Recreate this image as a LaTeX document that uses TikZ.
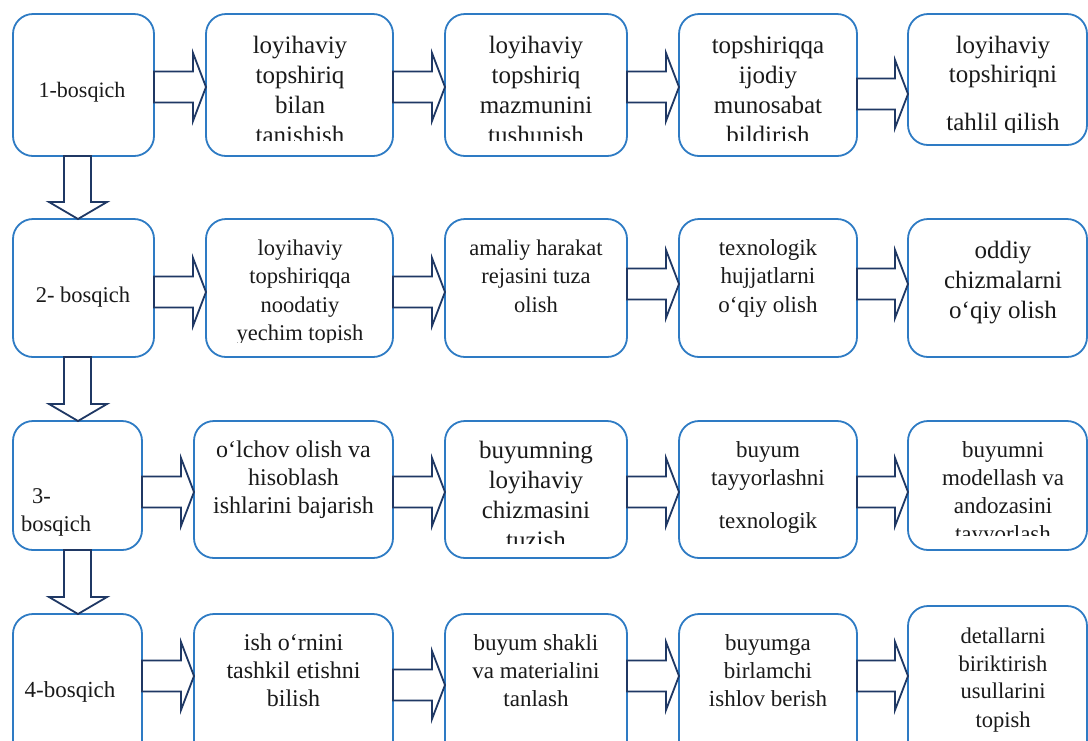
\documentclass[tikz,border=0pt]{standalone}
\usepackage{fontspec}
\setmainfont{Liberation Serif}
\usetikzlibrary{calc}
\definecolor{boxblue}{HTML}{2E7BC4}
\definecolor{arrnavy}{HTML}{1F3864}
\definecolor{txtgray}{HTML}{1A1A1A}
\tikzset{
  stage/.style={draw=boxblue, line width=1.8pt, rounded corners=20pt, fill=white, inner sep=0pt, outer sep=0pt, anchor=north west},
  blk/.style={draw=arrnavy, line width=1.8pt, fill=white, line join=miter},
  txt/.style={inner sep=0pt, text=txtgray, anchor=base},
}
\newcommand\bx[5]{\node[stage, minimum width={(#4-#2)*1pt}, minimum height={(#5-#3)*1pt}] (#1) at (#2,-#3) {};}
\newcommand\tl[5]{\node[txt, font=\fontsize{#4}{#4}\selectfont] (#1) at (#2,-#3) {#5};}
\newcommand\harr[3]{%
  \draw[blk] (#1.east |- 0,{-#3+15.5})
    -- ($(#2.west |- 0,{-#3+15.5})+(-13,0)$)
    -- ($(#2.west |- 0,{-#3+34})+(-13,0)$)
    -- (#2.west |- 0,{-#3})
    -- ($(#2.west |- 0,{-#3-34})+(-13,0)$)
    -- ($(#2.west |- 0,{-#3-15.5})+(-13,0)$)
    -- (#1.east |- 0,{-#3-15.5}) -- cycle;}
\newcommand\varr[2]{%
  \draw[blk] ($(#1.south west)+(51,0)$)
    -- ($(#2.north west)+(51,17)$)
    -- ($(#2.north west)+(36,17)$)
    -- ($(#2.north west)+(65,0)$)
    -- ($(#2.north west)+(94,17)$)
    -- ($(#2.north west)+(78,17)$)
    -- ($(#1.south west)+(78,0)$) -- cycle;}
\begin{document}
\begin{tikzpicture}[x=1pt,y=1pt]
\useasboundingbox (0,0) rectangle (1088,-740);
\fill[white] (0,0) rectangle (1088,-740);
% boxes
\bx{r1c1}{13}{14}{154}{156}
\bx{r1c2}{206}{14}{393}{156}
\bx{r1c3}{445}{14}{627}{156}
\bx{r1c4}{679}{14}{857}{156}
\bx{r1c5}{908}{14}{1087}{145}
\bx{r2c1}{13}{219}{154}{357}
\bx{r2c2}{206}{219}{393}{357}
\bx{r2c3}{445}{219}{627}{357}
\bx{r2c4}{679}{219}{857}{357}
\bx{r2c5}{908}{219}{1087}{357}
\bx{r3c1}{13}{421}{142}{550}
\bx{r3c2}{194}{421}{393}{558}
\bx{r3c3}{445}{421}{627}{558}
\bx{r3c4}{679}{421}{857}{558}
\bx{r3c5}{908}{421}{1087}{550}
\bx{r4c1}{13}{614}{142}{775}
\bx{r4c2}{194}{614}{393}{775}
\bx{r4c3}{445}{614}{627}{775}
\bx{r4c4}{679}{614}{857}{775}
\bx{r4c5}{908}{606}{1087}{775}
% arrows
\harr{r1c1}{r1c2}{87}
\harr{r1c2}{r1c3}{87}
\harr{r1c3}{r1c4}{87}
\harr{r1c4}{r1c5}{94}
\harr{r2c1}{r2c2}{292}
\harr{r2c2}{r2c3}{292}
\harr{r2c3}{r2c4}{284}
\harr{r2c4}{r2c5}{284}
\harr{r3c1}{r3c2}{492}
\harr{r3c2}{r3c3}{492}
\harr{r3c3}{r3c4}{492}
\harr{r3c4}{r3c5}{492}
\harr{r4c1}{r4c2}{676}
\harr{r4c2}{r4c3}{685}
\harr{r4c3}{r4c4}{676}
\harr{r4c4}{r4c5}{676}
\varr{r1c1}{r2c1}
\varr{r2c1}{r3c1}
\varr{r3c1}{r4c1}
% texts row 1
\tl{t11}{82}{97}{22}{1-bosqich}
\begin{scope}
\clip (200,0) rectangle (870,-140);
\tl{t12a}{300}{53}{25}{loyihaviy}
\tl{t12b}{300}{83}{25}{topshiriq}
\tl{t12c}{300}{113}{25}{bilan}
\tl{t12d}{300}{143}{25}{tanishish}
\tl{t13a}{536}{53}{25}{loyihaviy}
\tl{t13b}{536}{83}{25}{topshiriq}
\tl{t13c}{536}{113}{25}{mazmunini}
\tl{t13d}{536}{143}{25}{tushunish}
\tl{t14a}{768}{53}{25}{topshiriqqa}
\tl{t14b}{768}{83}{25}{ijodiy}
\tl{t14c}{768}{113}{25}{munosabat}
\tl{t14d}{768}{143}{25}{bildirish}
\end{scope}
\begin{scope}
\clip (900,0) rectangle (1088,-132.5);
\tl{t15a}{1003}{53}{25}{loyihaviy}
\tl{t15b}{1003}{82}{25}{topshiriqni}
\tl{t15c}{1003}{130}{25}{tahlil qilish}
\end{scope}
% texts row 2
\tl{t21}{83}{302}{22.5}{2- bosqich}
\begin{scope}
\clip (200,-200) rectangle (400,-342);
\tl{t22a}{300}{255}{22.5}{loyihaviy}
\tl{t22b}{300}{283.5}{22.5}{topshiriqqa}
\tl{t22c}{300}{312}{22.5}{noodatiy}
\tl{t22d}{300}{340.5}{22.5}{yechim topish}
\end{scope}
\tl{t23a}{536}{255}{22.5}{amaliy harakat}
\tl{t23b}{536}{283.5}{22.5}{rejasini tuza}
\tl{t23c}{536}{312}{22.5}{olish}
\tl{t24a}{768}{255}{23}{texnologik}
\tl{t24b}{768}{283.5}{23}{hujjatlarni}
\tl{t24c}{768}{312}{23}{o‘qiy olish}
\tl{t25a}{1003}{258}{25}{oddiy}
\tl{t25b}{1003}{288}{25}{chizmalarni}
\tl{t25c}{1003}{318}{25}{o‘qiy olish}
% texts row 3
\node[txt, anchor=base west, font=\fontsize{22.5}{22.5}\selectfont] (t31a) at (32,-503) {3-};
\node[txt, anchor=base west, font=\fontsize{22.5}{22.5}\selectfont] (t31b) at (21,-531) {bosqich};
\tl{t32a}{293.5}{457}{24}{o‘lchov olish va}
\tl{t32b}{293.5}{485}{24}{hisoblash}
\tl{t32c}{293.5}{513}{24}{ishlarini bajarish}
\begin{scope}
\clip (440,-400) rectangle (870,-543);
\tl{t33a}{536}{458}{25}{buyumning}
\tl{t33b}{536}{488}{25}{loyihaviy}
\tl{t33c}{536}{518}{25}{chizmasini}
\tl{t33d}{536}{548}{25}{tuzish}
\tl{t34a}{768}{457}{23}{buyum}
\tl{t34b}{768}{485}{23}{tayyorlashni}
\tl{t34c}{768}{528}{23}{texnologik}
\end{scope}
\begin{scope}
\clip (900,-400) rectangle (1088,-535);
\tl{t35a}{1003}{457}{23}{buyumni}
\tl{t35b}{1003}{485}{23}{modellash va}
\tl{t35c}{1003}{513}{23}{andozasini}
\tl{t35d}{1003}{541}{23}{tayyorlash}
\end{scope}
% texts row 4
\tl{t41}{70}{697}{23}{4-bosqich}
\tl{t42a}{293.5}{650}{24}{ish o‘rnini}
\tl{t42b}{293.5}{678}{24}{tashkil etishni}
\tl{t42c}{293.5}{706}{24}{bilish}
\tl{t43a}{536}{650}{23}{buyum shakli}
\tl{t43b}{536}{678}{23}{va materialini}
\tl{t43c}{536}{706}{23}{tanlash}
\tl{t44a}{768}{650}{23}{buyumga}
\tl{t44b}{768}{678}{23}{birlamchi}
\tl{t44c}{768}{706}{23}{ishlov berish}
\tl{t45a}{1003}{643}{22.5}{detallarni}
\tl{t45b}{1003}{671}{22.5}{biriktirish}
\tl{t45c}{1003}{698}{22.5}{usullarini}
\tl{t45d}{1003}{727}{22.5}{topish}
\end{tikzpicture}
\end{document}
